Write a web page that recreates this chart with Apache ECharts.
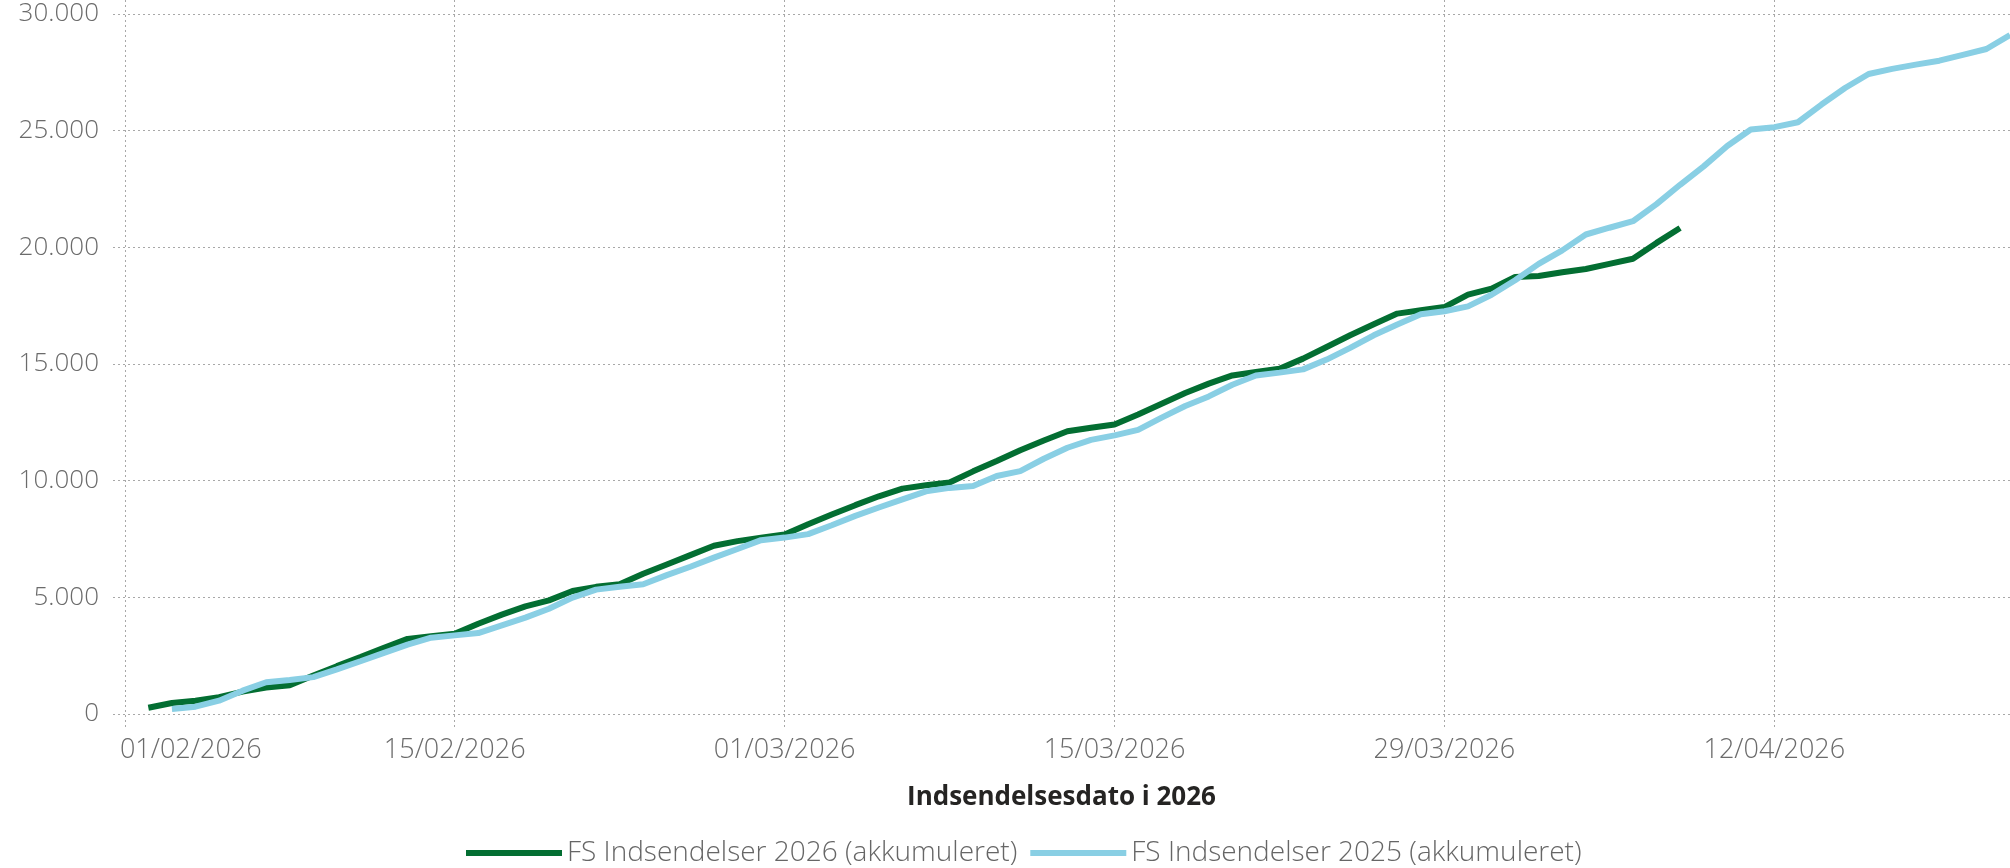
<!DOCTYPE html>
<html>
<head>
<meta charset="utf-8">
<script src="https://cdn.jsdelivr.net/npm/echarts@6/dist/echarts.min.js"></script>
<style>
    html, body { margin: 0; padding: 0; background: #fff; }
    #main { width: 2010px; height: 868px; }
</style>
</head>
<body>
<div id="main"></div>
<script>
// dage regnes fra 01/02/2026 (dag 0)
let start2026 = 1   // 02/02/2026
let start2025 = 2   // 03/02/2026
let fs2026 = [
    270, 470, 570, 720, 960, 1130, 1230, 1650, 2050, 2440,
    2840, 3220, 3330, 3440, 3870, 4260, 4610, 4870, 5270, 5450,
    5560, 6010, 6410, 6810, 7210, 7410, 7550, 7690, 8130, 8550,
    8950, 9330, 9660, 9800, 9920, 10400, 10840, 11300, 11720, 12120,
    12270, 12410, 12840, 13300, 13760, 14160, 14510, 14660, 14800, 15230,
    15730, 16230, 16700, 17160, 17300, 17440, 17970, 18230, 18730, 18770,
    18930, 19070, 19290, 19510, 20190, 20830
]
let fs2025 = [
    215, 315, 570, 1000, 1360, 1460, 1580, 1910, 2260, 2620,
    2970, 3270, 3370, 3470, 3800, 4130, 4510, 4990, 5330, 5450,
    5560, 5950, 6310, 6700, 7070, 7450, 7560, 7710, 8090, 8490,
    8850, 9200, 9540, 9690, 9770, 10200, 10410, 10940, 11410, 11750,
    11940, 12180, 12700, 13200, 13610, 14110, 14510, 14630, 14770, 15190,
    15690, 16230, 16690, 17130, 17260, 17470, 17970, 18590, 19290, 19870,
    20550, 20840, 21120, 21850, 22680, 23470, 24340, 25050, 25150, 25360,
    26120, 26830, 27430, 27650, 27830, 28000, 28250, 28500, 29100
]
let xTicks = [0, 14, 28, 42, 56, 70]   // 01/02, 15/02, 01/03, 15/03, 29/03, 12/04
let yTicks = [0, 5000, 10000, 15000, 20000, 25000, 30000]

let seriesNames = ['FS Indsendelser 2026 (akkumuleret)', 'FS Indsendelser 2025 (akkumuleret)']

function toPoints(start, arr) {
    return arr.map(function (v, i) { return [start + i, v] })
}
function dayLabel(d) {
    let dt = new Date(Date.UTC(2026, 1, 1 + d))
    let dd = String(dt.getUTCDate()).padStart(2, '0')
    let mm = String(dt.getUTCMonth() + 1).padStart(2, '0')
    return dd + '/' + mm + '/' + dt.getUTCFullYear()
}
function thousands(v) {
    return String(v).replace(/\B(?=(\d{3})+(?!\d))/g, '.')
}

let font = '"Open Sans", "Noto Sans", sans-serif'
let gridLine = { show: true, lineStyle: { color: '#a8a8a8', type: [2, 3], width: 1 } }

let myChart = echarts.init(document.getElementById('main'))
let option = {
    animation: false,
    textStyle: { fontFamily: font },
    grid: { left: 113, right: 0, top: 0, bottom: 141, containLabel: false },
    legend: {
        left: 461,
        top: 834,
        icon: 'rect',
        itemWidth: 96,
        itemHeight: 6,
        itemGap: 13,
        textStyle: { fontSize: 28, color: '#666', fontWeight: 300, fontFamily: font },
        data: seriesNames
    },
    xAxis: {
        type: 'value',
        min: -0.5,
        max: 80,
        name: 'Indsendelsesdato i 2026',
        nameLocation: 'middle',
        nameGap: 58,
        nameTextStyle: { fontSize: 26, fontWeight: 'bold', color: '#252423', fontFamily: font },
        axisLine: { show: false, onZero: false },
        axisTick: { show: false, customValues: xTicks },
        axisLabel: {
            customValues: xTicks,
            margin: 10,
            fontSize: 27,
            fontWeight: 300,
            color: '#6b6b6b',
            // første etiket skubbes ind så den starter ved aksen
            formatter: function (v) {
                return v === xTicks[0] ? '{first|' + dayLabel(v) + '}' : dayLabel(v)
            },
            rich: {
                first: { fontSize: 27, fontWeight: 300, color: '#6b6b6b', fontFamily: font, padding: [0, 0, 0, 132] }
            }
        },
        splitLine: gridLine
    },
    yAxis: {
        type: 'value',
        min: -557,
        max: 30600,
        axisLine: { show: false },
        axisTick: { show: false, customValues: yTicks },
        axisLabel: {
            customValues: yTicks,
            margin: 14,
            fontSize: 26,
            fontWeight: 300,
            color: '#6b6b6b',
            formatter: function (v) { return thousands(v) }
        },
        splitLine: gridLine
    },
    series: [{
        name: seriesNames[0],
        type: 'line',
        data: toPoints(start2026, fs2026),
        showSymbol: false,
        color: '#036e32',
        lineStyle: { width: 6, color: '#036e32' }
    }, {
        name: seriesNames[1],
        type: 'line',
        data: toPoints(start2025, fs2025),
        showSymbol: false,
        color: '#89cfe4',
        lineStyle: { width: 6, color: '#89cfe4' }
    }]
}
myChart.setOption(option)
</script>
</body>
</html>
